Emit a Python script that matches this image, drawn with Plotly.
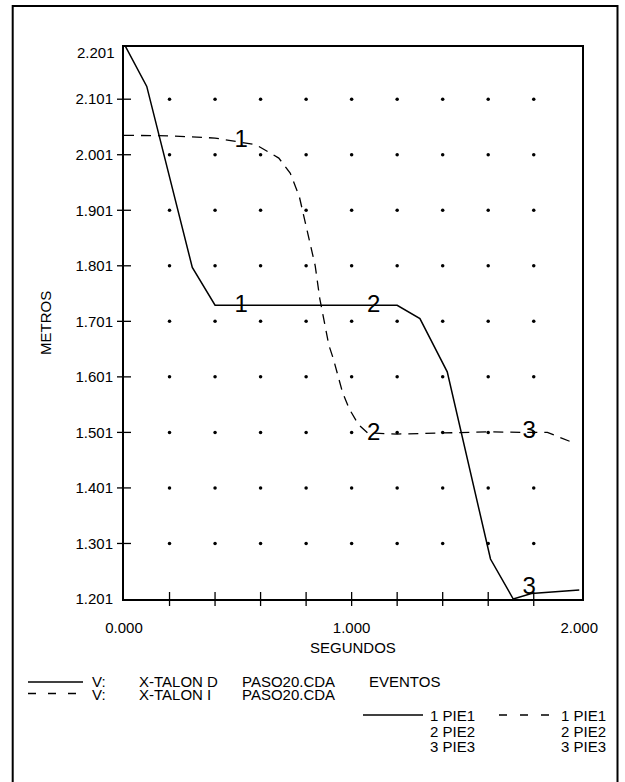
import plotly.graph_objects as go

# ---- data ----
t_derecho = [0.0, 0.1, 0.3, 0.4, 1.2, 1.3, 1.42, 1.61, 1.71, 1.79, 2.0]
v_derecho = [2.201, 2.124, 1.798, 1.730, 1.730, 1.706, 1.610, 1.273, 1.201, 1.211, 1.217]

t_izquierdo = [0.0, 0.2, 0.4, 0.58, 0.68, 0.73, 0.77, 0.79, 0.815, 0.84, 0.86,
               0.90, 0.92, 0.96, 0.99, 1.03, 1.07, 1.2, 1.4, 1.6, 1.78, 1.86, 1.97]
v_izquierdo = [2.036, 2.035, 2.031, 2.019, 1.995, 1.968, 1.926, 1.890, 1.848, 1.801, 1.742,
               1.658, 1.633, 1.573, 1.543, 1.515, 1.500, 1.498, 1.500, 1.502, 1.501, 1.501, 1.483]

evento_t = [0.515, 1.097, 1.78]
evento_txt = ["1", "2", "3"]
evento_v_derecho = [1.728, 1.728, 1.220]
evento_v_izquierdo = [2.025, 1.499, 1.502]

x_ticks_minor = [0.2, 0.4, 0.6, 0.8, 1.0, 1.2, 1.4, 1.6, 1.8]
y_ticks_minor = [1.301, 1.401, 1.501, 1.601, 1.701, 1.801, 1.901, 2.001, 2.101]
x_label_vals = [0.0, 1.0, 2.0]
x_label_txt = ["0.000", "1.000", "2.000"]
y_label_vals = [1.201, 1.301, 1.401, 1.501, 1.601, 1.701, 1.801, 1.901, 2.001, 2.101]
y_label_txt = ["1.201", "1.301", "1.401", "1.501", "1.601", "1.701", "1.801", "1.901", "2.001", "2.101"]
y_top_label = "2.201"

FONT = "Liberation Sans, Arial, Helvetica, sans-serif"
W, H = 625, 782
ML, MR, MT, MB = 124, 43, 47, 183
PW, PH = W - ML - MR, H - MT - MB


def xp(px):
    return (px - ML) / PW


def yp(py):
    return (H - MB - py) / PH


fig = go.Figure()

# grid dots
gx = [x for y in y_ticks_minor for x in x_ticks_minor]
gy = [y for y in y_ticks_minor for x in x_ticks_minor]
fig.add_trace(go.Scatter(x=gx, y=gy, mode="markers",
                         marker=dict(size=3.5, color="black"), hoverinfo="skip"))

# crossing tick marks
fig.add_trace(go.Scatter(x=[0] * len(y_ticks_minor), y=y_ticks_minor, mode="markers",
                         marker=dict(symbol="line-ew", size=10, line=dict(width=1.3, color="black")),
                         cliponaxis=False, hoverinfo="skip"))
fig.add_trace(go.Scatter(x=x_ticks_minor, y=[1.201] * len(x_ticks_minor), mode="markers",
                         marker=dict(symbol="line-ns", size=10, line=dict(width=1.3, color="black")),
                         cliponaxis=False, hoverinfo="skip"))

# curves
fig.add_trace(go.Scatter(x=t_derecho, y=v_derecho, mode="lines",
                         line=dict(color="black", width=1.5), cliponaxis=False))
fig.add_trace(go.Scatter(x=t_izquierdo, y=v_izquierdo, mode="lines",
                         line=dict(color="black", width=1.3, dash="10px,7px"), cliponaxis=False))

# event labels
fig.add_trace(go.Scatter(x=evento_t, y=evento_v_derecho, mode="text", text=evento_txt,
                         textposition="middle center",
                         textfont=dict(family=FONT, size=24, color="black"), cliponaxis=False))
fig.add_trace(go.Scatter(x=evento_t, y=evento_v_izquierdo, mode="text", text=evento_txt,
                         textposition="middle center",
                         textfont=dict(family=FONT, size=24, color="black"), cliponaxis=False))

shapes = []
# outer frame
shapes.append(dict(type="rect", xref="paper", yref="paper",
                   x0=xp(12.7), x1=xp(617.5), y0=yp(800), y1=yp(6),
                   line=dict(color="black", width=2), fillcolor="rgba(0,0,0,0)", layer="above"))
# legend lines
shapes.append(dict(type="line", xref="paper", yref="paper", x0=xp(28), x1=xp(83), y0=yp(682), y1=yp(682),
                   line=dict(color="black", width=1.3)))
shapes.append(dict(type="line", xref="paper", yref="paper", x0=xp(28), x1=xp(83), y0=yp(693.5), y1=yp(693.5),
                   line=dict(color="black", width=1.3, dash="8px,12px")))
shapes.append(dict(type="line", xref="paper", yref="paper", x0=xp(363), x1=xp(423), y0=yp(715), y1=yp(715),
                   line=dict(color="black", width=1.3)))
shapes.append(dict(type="line", xref="paper", yref="paper", x0=xp(499), x1=xp(551), y0=yp(715), y1=yp(715),
                   line=dict(color="black", width=1.3, dash="8px,13px")))

annotations = []


def txt(text, px, py, size=15, xanchor="left", angle=0):
    annotations.append(dict(text=text, xref="paper", yref="paper", x=xp(px), y=yp(py),
                            xanchor=xanchor, yanchor="middle", showarrow=False, textangle=angle,
                            font=dict(family=FONT, size=size, color="black")))


txt(y_top_label, 117, 52.5, size=15, xanchor="right")
txt("SEGUNDOS", 353, 647, xanchor="center")
txt("METROS", 45, 323, xanchor="center", angle=-90)

txt("V:", 90, 682)
txt("X-TALON D", 136.5, 682)
txt("PASO20.CDA", 240, 682)
txt("EVENTOS", 366.5, 682)
txt("V:", 90, 694)
txt("X-TALON I", 136.5, 694)
txt("PASO20.CDA", 240, 694)

for i, lab in enumerate(["1 PIE1", "2 PIE2", "3 PIE3"]):
    txt(lab, 428, 715.5 + 15.5 * i)
    txt(lab, 559, 715.5 + 15.5 * i)

fig.update_layout(
    width=W, height=H,
    margin=dict(l=ML, r=MR, t=MT, b=MB, pad=0),
    paper_bgcolor="white", plot_bgcolor="white",
    showlegend=False,
    shapes=shapes, annotations=annotations,
    font=dict(family=FONT, size=15, color="black"),
    xaxis=dict(range=[0, 2.012], showgrid=False, zeroline=False,
               showline=True, mirror=True, linecolor="black", linewidth=2,
               tickvals=x_label_vals, ticktext=x_label_txt, ticks="",
               ticklabelstandoff=14, tickfont=dict(family=FONT, size=15)),
    yaxis=dict(range=[1.201, 2.195], showgrid=False, zeroline=False,
               showline=True, mirror=True, linecolor="black", linewidth=2,
               tickvals=y_label_vals, ticktext=y_label_txt, ticks="",
               ticklabelstandoff=6, tickfont=dict(family=FONT, size=15)),
)

fig.write_html("out.html",
               config={"displayModeBar": False},
               post_script="document.body.style.margin='0';document.body.style.overflow='hidden';")
